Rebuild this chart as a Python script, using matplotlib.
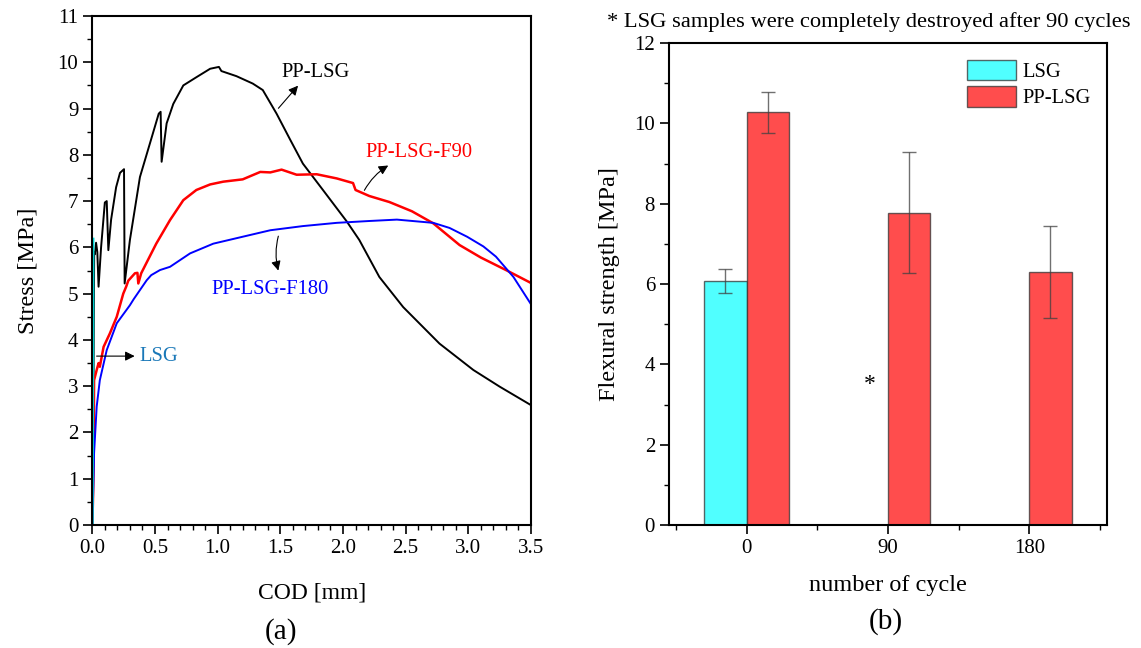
import matplotlib
matplotlib.use("Agg")
import matplotlib.pyplot as plt
from matplotlib.patches import Patch
from matplotlib.ticker import MultipleLocator, FixedLocator

plt.rcParams['font.family'] = ['Liberation Serif', 'DejaVu Serif']
plt.rcParams['mathtext.fontset'] = 'stix'

# ---------------- data: panel (a) ----------------
lsg_x = [0.0, 0.003, 0.005, 0.006]
lsg_y = [0.0, 2.5, 4.5, 6.18]

pp_x = [0.0, 0.008, 0.012, 0.015, 0.02, 0.03, 0.04, 0.05, 0.07, 0.10, 0.115, 0.128, 0.15, 0.19,
        0.221, 0.253, 0.258, 0.30, 0.38, 0.46, 0.53, 0.545, 0.553, 0.593, 0.646, 0.726, 0.832,
        0.94, 1.01, 1.03, 1.15, 1.28, 1.36, 1.47, 1.58, 1.68, 1.84, 2.03, 2.13, 2.21, 2.29,
        2.48, 2.77, 3.04, 3.25, 3.50]
pp_y = [0.0, 2.0, 4.5, 5.9, 5.85, 6.1, 5.9, 5.15, 6.0, 6.97, 7.0, 5.94, 6.6, 7.3,
        7.61, 7.69, 5.22, 6.16, 7.52, 8.25, 8.89, 8.93, 7.85, 8.68, 9.1, 9.5, 9.68,
        9.86, 9.9, 9.81, 9.70, 9.54, 9.40, 8.89, 8.32, 7.81, 7.24, 6.56, 6.16, 5.76, 5.36,
        4.71, 3.92, 3.35, 2.99, 2.59]

f90_x = [0.0, 0.005, 0.01, 0.014, 0.035, 0.05, 0.06, 0.09, 0.14, 0.195, 0.247, 0.27, 0.287,
         0.34, 0.36, 0.367, 0.39, 0.51, 0.62, 0.726, 0.83, 0.94, 1.045, 1.20, 1.34, 1.42,
         1.51, 1.63, 1.79, 1.95, 2.08, 2.10, 2.21, 2.37, 2.55, 2.72, 2.93, 3.10, 3.30, 3.50]
f90_y = [0.0, 0.5, 1.26, 3.13, 3.35, 3.5, 3.42, 3.85, 4.14, 4.5, 5.0, 5.15, 5.28,
         5.44, 5.45, 5.22, 5.44, 6.08, 6.59, 7.02, 7.24, 7.36, 7.42, 7.47, 7.63, 7.62,
         7.68, 7.57, 7.58, 7.49, 7.39, 7.24, 7.11, 6.98, 6.78, 6.52, 6.05, 5.78, 5.51, 5.23]

f180_x = [0.0, 0.008, 0.014, 0.035, 0.06, 0.115, 0.195, 0.30, 0.33, 0.434, 0.47, 0.54, 0.62,
          0.78, 0.965, 1.20, 1.42, 1.68, 1.95, 2.21, 2.43, 2.72, 2.85, 2.99, 3.12, 3.22,
          3.36, 3.50]
f180_y = [0.0, 0.8, 1.55, 2.56, 3.13, 3.78, 4.36, 4.75, 4.88, 5.29, 5.4, 5.51, 5.58,
          5.87, 6.08, 6.23, 6.37, 6.46, 6.53, 6.57, 6.6, 6.53, 6.42, 6.23, 6.02, 5.8,
          5.36, 4.77]

# ---------------- data: panel (b) ----------------
cycles = ['0', '90', '180']
lsg_strength = [6.07, None, None]
lsg_err = [0.30, None, None]
pplsg_strength = [10.28, 7.78, 6.30]
pplsg_err = [0.51, 1.50, 1.15]

fig = plt.figure(figsize=(11.41, 6.48), dpi=100)

# ---------- panel (a) ----------
ax1 = fig.add_axes([0.0809, 0.1898, 0.3845, 0.7855])
ax1.plot(pp_x, pp_y, color='black', lw=1.4)
ax1.plot(f90_x, f90_y, color='#FF0000', lw=1.8)
ax1.plot(f180_x, f180_y, color='#0000FF', lw=1.4)
ax1.plot(lsg_x, lsg_y, color='#00D8D8', lw=2.0)
ax1.set_xlim(0, 3.5)
ax1.set_ylim(0, 11)
ax1.xaxis.set_major_locator(MultipleLocator(0.5))
ax1.xaxis.set_minor_locator(MultipleLocator(0.1))
ax1.yaxis.set_major_locator(MultipleLocator(1))
ax1.yaxis.set_minor_locator(MultipleLocator(0.5))
ax1.xaxis.set_major_formatter(matplotlib.ticker.FormatStrFormatter('%.1f'))
ax1.set_xlabel('COD [mm]', fontsize=17, labelpad=18)
ax1.set_ylabel('Stress [MPa]', fontsize=17.5, labelpad=14)

arw = dict(arrowstyle='-|>', color='black', lw=0.8, mutation_scale=14)
ax1.annotate('', xy=(1.656, 9.54), xytext=(1.47, 8.96), arrowprops=arw)
ax1.text(1.51, 9.78, 'PP-LSG', fontsize=14.8, color='black', va='center', ha='left')
ax1.annotate('', xy=(2.38, 7.80), xytext=(2.16, 7.18),
             arrowprops=dict(arw, connectionstyle='arc3,rad=-0.15'))
ax1.text(2.61, 8.06, 'PP-LSG-F90', fontsize=14.8, color='#FF0000', va='center', ha='center')
ax1.annotate('', xy=(1.49, 5.44), xytext=(1.49, 6.3),
             arrowprops=dict(arw, connectionstyle='arc3,rad=0.15'))
ax1.text(1.42, 5.08, 'PP-LSG-F180', fontsize=14.8, color='#0000FF', va='center', ha='center')
ax1.annotate('', xy=(0.36, 3.65), xytext=(0.012, 3.65), arrowprops=arw)
ax1.text(0.375, 3.65, 'LSG', fontsize=14.8, color='#1A78B8', va='center', ha='left')

fig.text(281 / 1141, 1 - 632 / 648, '(a)', fontsize=21, ha='center', va='center')

# ---------- panel (b) ----------
ax2 = fig.add_axes([0.5863, 0.1898, 0.3839, 0.7438])
pos = list(range(len(cycles)))
w = 0.3
edge = (0.2, 0.2, 0.2, 0.75)
lx = [p - w / 2 for p, v in zip(pos, lsg_strength) if v is not None]
lv = [v for v in lsg_strength if v is not None]
le = [e for e in lsg_err if e is not None]
ekw = dict(ecolor=(0.25, 0.25, 0.25, 0.75), elinewidth=1.0, capsize=5, capthick=1.0)
ax2.bar(lx, lv, width=w, color='#50FFFF', edgecolor=edge, lw=1.0, yerr=le, error_kw=ekw)
ax2.bar([p + w / 2 for p in pos], pplsg_strength, width=w, color='#FF4D4D', edgecolor=edge,
        lw=1.0, yerr=pplsg_err, error_kw=ekw)
ax2.set_xlim(-0.55, 2.55)
ax2.set_ylim(0, 12)
ax2.set_xticks(pos)
ax2.set_xticklabels(cycles)
ax2.xaxis.set_minor_locator(FixedLocator([-0.5, 0.5, 1.5, 2.5]))
ax2.yaxis.set_major_locator(MultipleLocator(2))
ax2.yaxis.set_minor_locator(MultipleLocator(1))
ax2.set_xlabel('number of cycle', fontsize=17.5, labelpad=12)
ax2.set_ylabel('Flexural strength [MPa]', fontsize=17.5, labelpad=10)
ax2.text(0.87, 3.49, '*', fontsize=17, ha='center', va='center')
handles = [Patch(facecolor='#50FFFF', edgecolor=edge, lw=1.0, label='LSG'),
           Patch(facecolor='#FF4D4D', edgecolor=edge, lw=1.0, label='PP-LSG')]
ax2.legend(handles=handles, loc='upper right', bbox_to_anchor=(0.995, 0.995), frameon=False,
           fontsize=14.8, handlelength=2.4, handleheight=1.15, labelspacing=0.2,
           handletextpad=0.3, borderaxespad=0.3)
fig.text(869 / 1141, 1 - 22 / 648, '* LSG samples were completely destroyed after 90 cycles',
         fontsize=16.2, ha='center', va='center')
fig.text(886 / 1141, 1 - 622 / 648, '(b)', fontsize=21, ha='center', va='center')

for ax in (ax1, ax2):
    for s in ax.spines.values():
        s.set_linewidth(1.5)
    ax.tick_params(which='major', direction='out', length=6.5, width=1.2, labelsize=15,
                   top=False, right=False)
    ax.tick_params(which='minor', direction='out', length=3.5, width=1.0, top=False, right=False)

fig.savefig('out.png', dpi=100)
